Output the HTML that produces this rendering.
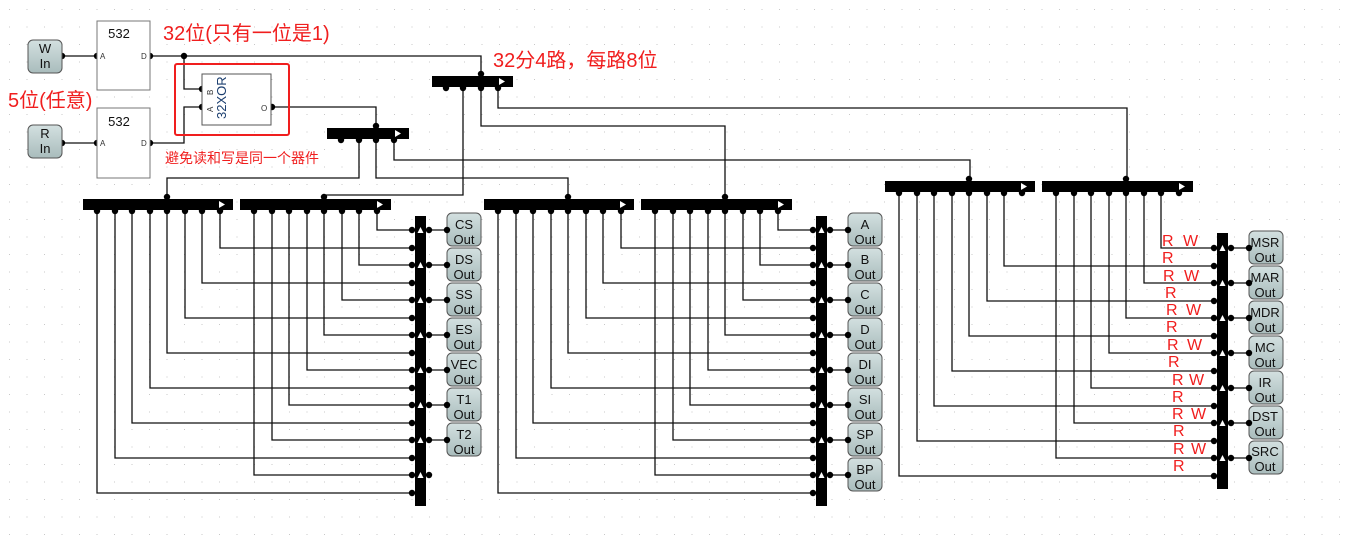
<!DOCTYPE html>
<html><head><meta charset="utf-8">
<style>
html,body{margin:0;padding:0;background:#fff;}
svg{display:block;}
.o{font-family:"Liberation Sans","DejaVu Sans",sans-serif;font-size:13px;fill:#111;text-anchor:middle;}
.r{font-family:"Liberation Sans","Noto Sans CJK SC",sans-serif;fill:#f01e1e;}
</style></head>
<body>
<svg id="s" width="1347" height="548" viewBox="0 0 1347 548" xmlns="http://www.w3.org/2000/svg">
<defs>
<pattern id="g" x="9" y="9" width="17.5" height="17.5" patternUnits="userSpaceOnUse"><rect x="0" y="0" width="1" height="1" fill="#c8c8c8"/></pattern>
<linearGradient id="bg" x1="0" y1="0" x2="0" y2="1"><stop offset="0" stop-color="#d3e0e0"/><stop offset="1" stop-color="#a9bcbc"/></linearGradient>
</defs>
<rect width="1347" height="548" fill="url(#g)"/>
<g id="w" stroke="#111" stroke-width="1.3" fill="none"></g>
<g id="sh"></g>
<g id="d" fill="#000"></g>

<rect x="28" y="40" width="34" height="33" rx="5" fill="url(#bg)" stroke="#555"/>
<text class="o" x="45" y="53">W</text><text class="o" x="45" y="68">In</text>
<rect x="28" y="125" width="34" height="33" rx="5" fill="url(#bg)" stroke="#555"/>
<text class="o" x="45" y="138">R</text><text class="o" x="45" y="153">In</text>
<rect x="97" y="21" width="53" height="69" fill="#fff" stroke="#777"/>
<text class="o" x="119" y="38">532</text>
<text x="100" y="59" font-size="8" font-family="Liberation Sans" fill="#333">A</text>
<text x="141" y="59" font-size="8" font-family="Liberation Sans" fill="#333">D</text>
<rect x="97" y="108" width="53" height="70" fill="#fff" stroke="#777"/>
<text class="o" x="119" y="126">532</text>
<text x="100" y="146" font-size="8" font-family="Liberation Sans" fill="#333">A</text>
<text x="141" y="146" font-size="8" font-family="Liberation Sans" fill="#333">D</text>
<rect x="202" y="74" width="69" height="51" fill="#fff" stroke="#555"/>
<text transform="translate(226,119) rotate(-90)" font-size="13" font-family="Liberation Sans" fill="#1a3d6e">32XOR</text>
<text transform="translate(213,95) rotate(-90)" font-size="8" font-family="Liberation Sans" fill="#333">B</text>
<text transform="translate(213,112) rotate(-90)" font-size="8" font-family="Liberation Sans" fill="#333">A</text>
<text x="261" y="111" font-size="8" font-family="Liberation Sans" fill="#333">O</text>
<rect x="175" y="64" width="114" height="71" fill="none" stroke="#f01e1e" stroke-width="2" rx="2"/>

<text class="r" x="163" y="40" font-size="20">32位(只有一位是1)</text>
<text class="r" x="8" y="107" font-size="20">5位(任意)</text>
<text class="r" x="493" y="67" font-size="20">32分4路，每路8位</text>
<text class="r" x="165" y="163" font-size="14">避免读和写是同一个器件</text>

<g id="lab">
<text class="o" x="464" y="229">CS</text><text class="o" x="464" y="244">Out</text>
<text class="o" x="464" y="264">DS</text><text class="o" x="464" y="279">Out</text>
<text class="o" x="464" y="299">SS</text><text class="o" x="464" y="314">Out</text>
<text class="o" x="464" y="334">ES</text><text class="o" x="464" y="349">Out</text>
<text class="o" x="464" y="369">VEC</text><text class="o" x="464" y="384">Out</text>
<text class="o" x="464" y="404">T1</text><text class="o" x="464" y="419">Out</text>
<text class="o" x="464" y="439">T2</text><text class="o" x="464" y="454">Out</text>

<text class="o" x="865" y="229">A</text><text class="o" x="865" y="244">Out</text>
<text class="o" x="865" y="264">B</text><text class="o" x="865" y="279">Out</text>
<text class="o" x="865" y="299">C</text><text class="o" x="865" y="314">Out</text>
<text class="o" x="865" y="334">D</text><text class="o" x="865" y="349">Out</text>
<text class="o" x="865" y="369">DI</text><text class="o" x="865" y="384">Out</text>
<text class="o" x="865" y="404">SI</text><text class="o" x="865" y="419">Out</text>
<text class="o" x="865" y="439">SP</text><text class="o" x="865" y="454">Out</text>
<text class="o" x="865" y="474">BP</text><text class="o" x="865" y="489">Out</text>

<text class="o" x="1265" y="247">MSR</text><text class="o" x="1265" y="262">Out</text>
<text class="o" x="1265" y="282">MAR</text><text class="o" x="1265" y="297">Out</text>
<text class="o" x="1265" y="317">MDR</text><text class="o" x="1265" y="332">Out</text>
<text class="o" x="1265" y="352">MC</text><text class="o" x="1265" y="367">Out</text>
<text class="o" x="1265" y="387">IR</text><text class="o" x="1265" y="402">Out</text>
<text class="o" x="1265" y="421">DST</text><text class="o" x="1265" y="436">Out</text>
<text class="o" x="1265" y="456">SRC</text><text class="o" x="1265" y="471">Out</text>
</g>
<g font-size="15">
<text class="r" x="1162" y="246">R</text><text class="r" x="1183" y="246">W</text>
<text class="r" x="1162" y="263">R</text>
<text class="r" x="1163" y="281">R</text><text class="r" x="1184" y="281">W</text>
<text class="r" x="1165" y="298">R</text>
<text class="r" x="1166" y="315">R</text><text class="r" x="1186" y="315">W</text>
<text class="r" x="1166" y="332">R</text>
<text class="r" x="1167" y="350">R</text><text class="r" x="1187" y="350">W</text>
<text class="r" x="1168" y="367">R</text>
<text class="r" x="1172" y="385">R</text><text class="r" x="1189" y="385">W</text>
<text class="r" x="1172" y="402">R</text>
<text class="r" x="1172" y="419">R</text><text class="r" x="1191" y="419">W</text>
<text class="r" x="1173" y="436">R</text>
<text class="r" x="1173" y="454">R</text><text class="r" x="1191" y="454">W</text>
<text class="r" x="1173" y="471">R</text>
</g>
</svg>
<script>
const NS="http://www.w3.org/2000/svg";
const W=document.getElementById('w'),SH=document.getElementById('sh'),D=document.getElementById('d');
function el(p,t,a){const e=document.createElementNS(NS,t);for(const k in a)e.setAttribute(k,a[k]);p.appendChild(e);return e;}
function line(pts){el(W,'polyline',{points:pts.map(p=>p.join(',')).join(' ')});}
function dot(x,y){el(D,'circle',{cx:x,cy:y,r:3.2});}
function tri(x,y){el(SH,'polygon',{points:`${x-3},${y+3} ${x+3},${y+3} ${x},${y-3}`,fill:'#fff'});}
function splitter(x,y,w,taps,top){
 el(SH,'rect',{x:x,y:y,width:w,height:11,fill:'#000'});
 el(SH,'polygon',{points:`${x+w-14},${y+2} ${x+w-14},${y+9} ${x+w-8},${y+5.5}`,fill:'#fff'});
 taps.forEach(t=>dot(t,y+12)); dot(top,y-2);
}
function outBox(x,y){el(SH,'rect',{x:x,y:y,width:34,height:33,rx:5,fill:'url(#bg)',stroke:'#555'});}
line([[62,56],[97,56]]);dot(62,56);dot(97,56);
line([[62,143],[97,143]]);dot(62,143);dot(97,143);
line([[150,56],[481,56],[481,74]]);dot(150,56);dot(184,56);
line([[184,56],[184,89],[202,89]]);dot(202,89);
line([[150,143],[184,143],[184,107],[202,107]]);dot(150,143);dot(202,107);
line([[271,107],[376,107],[376,126]]);dot(272,107);
splitter(432,76,81,[446,463,481,498],481);
splitter(327,128,82,[341,359,376,394],376);
line([[498,88],[498,108],[1127,108],[1127,178]]);
line([[481,88],[481,126],[725,126],[725,196]]);
line([[463,88],[463,195],[324,195]]);
line([[359,140],[359,178],[167,178],[167,196]]);
line([[376,140],[376,178],[568,178],[568,196]]);
line([[394,140],[394,160],[970,160],[970,178]]);
function seq(a,n){const r=[];for(let i=0;i<8;i++)r.push(Math.round(a+i*17.5));return r;}
function group(b1x,b2x,by,busx,bty,bby,rows,outN,skip){
 const t1=seq(b1x+14),t2=seq(b2x+14);
 splitter(b1x,by,150,t1,t1[4]);splitter(b2x,by,151,t2,t2[4]);
 el(SH,'rect',{x:busx,y:bty,width:11,height:bby-bty,fill:'#000'});
 rows.forEach((ry,i)=>{
  const k=Math.floor(i/2);const tx=(i%2==0)?t2[7-k-skip]:t1[7-k-skip];
  line([[tx,by+12],[tx,ry],[busx-3,ry]]);dot(busx-3,ry);
  if(i%2==0){tri(busx+5.5,ry);dot(busx+14,ry);
   if(k<outN){line([[busx+14,ry],[busx+33,ry]]);dot(busx+32,ry);outBox(busx+32,ry-17);}}
 });
}
const r16=[];for(let i=0;i<16;i++)r16.push(Math.round(230+i*17.5));
const r14=[];for(let i=0;i<14;i++)r14.push(Math.round(248+i*17.5));
group(83,240,199,415,216,506,r16,7,0);
group(484,641,199,816,216,506,r16,8,0);
group(885,1042,181,1217,233,489,r14,7,1);
const svg=document.getElementById('s');[...svg.querySelectorAll('text')].forEach(t=>svg.appendChild(t));
</script>
</body></html>
